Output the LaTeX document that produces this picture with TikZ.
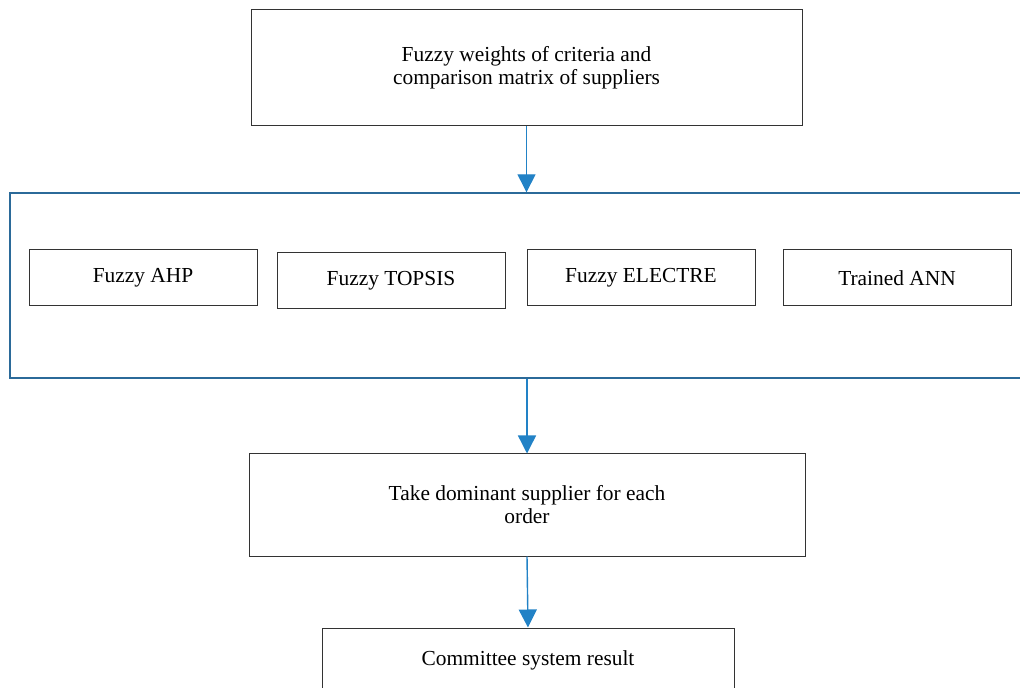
\documentclass[tikz,border=0pt]{standalone}
\usepackage{fontspec}
\setmainfont{Liberation Serif}
\usetikzlibrary{arrows.meta}
\definecolor{flowblue}{HTML}{2282C6}
\definecolor{frameblue}{HTML}{2B6A99}
\definecolor{boxgray}{HTML}{333333}
\begin{document}
\begin{tikzpicture}
[x=0.5pt,y=-0.5pt,
  boxdecorate/.style={shape=rectangle,draw=boxgray,line width=0.5pt,align=center,
    inner sep=0pt,font=\fontsize{10.7}{11.5}\selectfont},
  methoddecorate/.style={boxdecorate,minimum width=114pt,minimum height=28pt},
  framedecorate/.style={shape=rectangle,draw=frameblue,line width=0.7pt,inner sep=0pt},
  linedecorate/.style={draw=flowblue,line width=0.7pt,-{Triangle[width=9pt,length=9pt]}}]
\path[use as bounding box] (0,0) rectangle (1020,688);
\clip (0,0) rectangle (1020,688);
%% input box
\node (weights) at (526.5,68) [boxdecorate,minimum width=275.5pt,minimum height=58pt]
  {Fuzzy weights of criteria and\\comparison matrix of suppliers};
%% frame around the methods
\node (methods) at (525,285.5) [framedecorate,minimum width=515pt,minimum height=92.5pt] {};
\foreach \nodename/\x/\y/\txt in {
  ahp/143/278/Fuzzy AHP, topsis/391/280.5/Fuzzy TOPSIS,
  electre/641/277.5/Fuzzy ELECTRE, ann/897/278/Trained ANN}
{
  \node (\nodename) at (\x,\y) [methoddecorate] {\txt};
}
%% output boxes
\node (dominant) at (527,505) [boxdecorate,minimum width=278pt,minimum height=51pt]
  {Take dominant supplier for each\\order};
\node (result) at (528,660) [boxdecorate,minimum width=206pt,minimum height=32pt]
  {Committee system result};
%% arrows
\draw[linedecorate] (weights.south) -- (weights.south |- methods.north);
\draw[linedecorate] (dominant.north |- methods.south) -- (dominant.north);
\draw[linedecorate] (dominant.south) -- (result.north);
\end{tikzpicture}
\end{document}
